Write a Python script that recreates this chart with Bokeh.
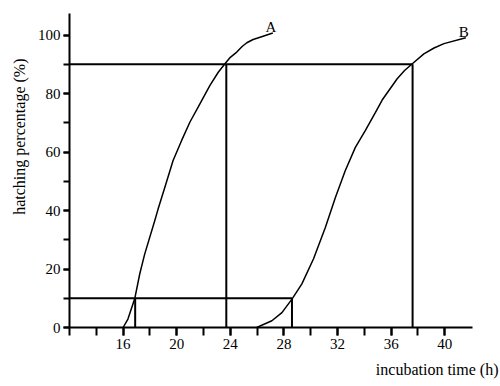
import math
from bokeh.plotting import figure
from bokeh.models import Range1d, FixedTicker, Title
from bokeh.core.properties import value
from bokeh.embed import file_html
from bokeh.resources import INLINE

# ---- data ----
curve_a_time = [16.0, 16.36, 16.87, 17.24, 17.61, 18.36, 18.61, 19.11, 19.73, 20.36,
                20.98, 21.73, 22.48, 23.1, 23.6, 24.0, 24.48, 24.9, 25.23, 25.7, 26.22, 27.17]
curve_a_pct = [0, 2.9, 9.9, 18.3, 25.1, 36.5, 40.5, 47.9, 57.1, 63.9,
               70.2, 76.5, 82.8, 87.3, 90.2, 92.4, 94.2, 96.2, 97.4, 98.5, 99.3, 100.7]

curve_b_time = [25.97, 27.1, 27.85, 28.6, 29.34, 30.21, 31.09, 31.84, 32.58, 33.33,
                34.08, 34.83, 35.33, 36.45, 37.0, 37.58, 38.44, 39.2, 39.94, 41.57]
curve_b_pct = [0, 2.3, 5.1, 9.7, 14.9, 23.5, 34.2, 44.5, 53.7, 61.6,
               67.4, 73.6, 77.8, 85.1, 87.9, 90.2, 93.6, 95.6, 97.1, 99.1]

curve_names = ["A", "B"]

thresholds = [10, 90]          # hatching percentage levels
a_times = [16.9, 23.7]         # curve A time at 10% and 90%
b_times = [28.6, 37.6]         # curve B time at 10% and 90%

x_tick_labels = [16, 20, 24, 28, 32, 36, 40]
x_minor_ticks = [12, 14, 16, 18, 20, 22, 24, 26, 28, 30, 32, 34, 36, 38, 40]
y_tick_labels = [0, 20, 40, 60, 80, 100]
y_minor_ticks = [0, 10, 20, 30, 40, 50, 60, 70, 80, 90, 100]

x_title = "incubation time (h)"
y_title = "hatching percentage (%)"

x_start, x_end = 12, 42.07
y_start, y_end = 0, 107.4

FONT = "Liberation Serif"

p = figure(width=500, height=386, output_backend="svg", toolbar_location=None,
           x_range=Range1d(x_start, x_end), y_range=Range1d(y_start, y_end),
           min_border_left=69, min_border_right=28, min_border_top=13,
           min_border_bottom=59)
p.outline_line_color = None
p.grid.visible = False
p.background_fill_color = "white"
p.border_fill_color = "white"

for ax in (p.xaxis[0], p.yaxis[0]):
    ax.axis_line_width = 2
    ax.axis_line_color = "black"
    ax.major_tick_line_width = 2
    ax.minor_tick_line_width = 2
    ax.major_tick_line_color = "black"
    ax.minor_tick_line_color = "black"
    ax.major_tick_in = 0
    ax.minor_tick_in = 0
    ax.major_label_text_font = FONT
    ax.major_label_text_font_size = "15px"
    ax.major_label_text_color = "black"

p.xaxis.ticker = FixedTicker(ticks=x_tick_labels, minor_ticks=x_minor_ticks)
p.xaxis.major_tick_out = 8
p.xaxis.minor_tick_out = 8
p.xaxis.major_label_standoff = 3

p.yaxis.ticker = FixedTicker(ticks=y_tick_labels, minor_ticks=y_minor_ticks)
p.yaxis.major_tick_out = 6
p.yaxis.minor_tick_out = 6
p.yaxis.major_label_standoff = 3

# reference lines
h_ends = [b_times[0], b_times[1]]
p.segment(x0=[x_start] * len(thresholds), y0=thresholds, x1=h_ends, y1=thresholds,
          line_color="black", line_width=2)
v_x = a_times + b_times
v_top = thresholds + thresholds
p.segment(x0=v_x, y0=[0] * len(v_x), x1=v_x, y1=v_top, line_color="black", line_width=2)

# curves
p.line(curve_a_time, curve_a_pct, line_color="black", line_width=1.5)
p.line(curve_b_time, curve_b_pct, line_color="black", line_width=1.5)

p.text(x=[curve_a_time[-1], curve_b_time[-1]], y=[curve_a_pct[-1], curve_b_pct[-1]],
       text=curve_names, text_font=value(FONT), text_font_size="15px",
       text_color="black", text_align="center", text_baseline="alphabetic",
       x_offset=-2, y_offset=-6)

p.add_layout(Title(text=x_title, align="right", offset=-26, standoff=15,
                   text_font=FONT, text_font_size="16px", text_font_style="normal",
                   text_color="black"), "below")
p.add_layout(Title(text=y_title, align="right", offset=45, standoff=14,
                   text_font=FONT, text_font_size="16px", text_font_style="normal",
                   text_color="black"), "left")

open("out.html", "w").write(file_html(p, INLINE))
